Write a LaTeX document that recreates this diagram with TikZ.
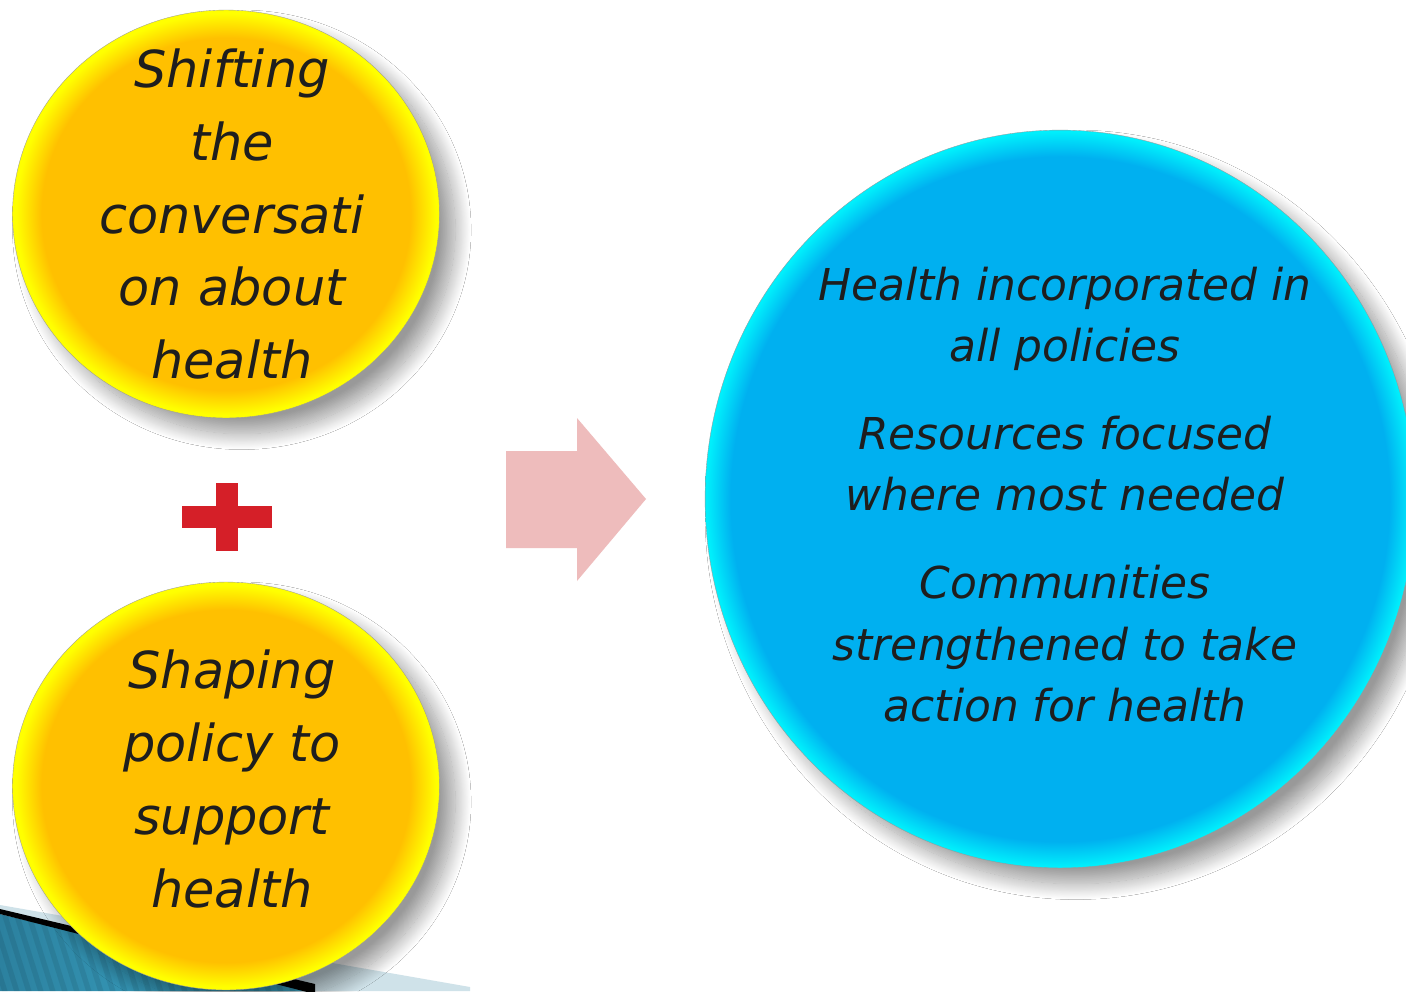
\documentclass[tikz,border=0pt]{standalone}
\usepackage{fontspec}
\setsansfont{DejaVu Sans}
\usetikzlibrary{shapes.geometric,shadows.blur}

\definecolor{discgold}{HTML}{FFC000}
\definecolor{discyellow}{HTML}{FFFF00}
\definecolor{discblue}{HTML}{00B0F0}
\definecolor{disccyan}{HTML}{00FFFF}
\definecolor{arrowpink}{HTML}{EEBCBC}
\definecolor{plusred}{HTML}{D51F28}
\definecolor{inkgray}{HTML}{1E1E1E}
\definecolor{bandblue}{HTML}{3FAFD0}
\definecolor{banddeep}{HTML}{2C819F}
\definecolor{bandlight}{HTML}{CFE2E9}

\pgfdeclareradialshading{goldglow}{\pgfpoint{0bp}{0bp}}{color(0bp)=(discgold); color(21.6bp)=(discgold); color(24.6bp)=(discyellow); color(25bp)=(discyellow); color(50bp)=(discyellow)}
\pgfdeclareradialshading{blueglow}{\pgfpoint{0bp}{0bp}}{color(0bp)=(discblue); color(23.2bp)=(discblue); color(24.9bp)=(disccyan!80!discblue); color(25bp)=(disccyan!80!discblue); color(50bp)=(disccyan)}

\begin{document}
\begin{tikzpicture}[x=0.02cm, y=-0.02cm,
                    disc/.style={ellipse, inner sep=0pt, draw=gray!80, very thin,
                      blur shadow={shadow xshift=9pt, shadow yshift=-9pt,
                                   shadow blur radius=9pt, shadow blur steps=25,
                                   shadow opacity=40}},
                    gold disc/.style={disc, shading=goldglow,
                      minimum width=8.54cm, minimum height=8.16cm},
                    blue disc/.style={disc, shading=blueglow,
                      minimum width=14.2cm, minimum height=14.76cm},
                    disc text/.style={align=center, text=inkgray, inner sep=0pt}]

  \useasboundingbox[fill=white] (0,0) rectangle (1406,991);

  % corner band
  \fill[bandlight] (0,905) -- (470,987) -- (470,991) -- (310,991) -- (0,911) -- cycle;
  \begin{scope}
    \clip (0,914) -- (315,991) -- (0,991) -- cycle;
    \shade[left color=banddeep, right color=bandblue] (0,900) rectangle (320,991);
    \foreach \x in {-60,-48,...,320}
      \draw[black, opacity=0.08, line width=3] (\x,900) -- (\x+30,995);
  \end{scope}
  \fill[black] (0,909) -- (315,984) -- (315,994) -- (0,914) -- cycle;

  % discs
  \node[gold disc] (shift) at (226,214) {};
  \node[gold disc] (shape) at (226,786) {};
  \node[blue disc] (result) at (1060,499) {};

  \node[disc text, font=\sffamily\itshape\fontsize{29}{41.4}\selectfont] at ([xshift=0.12cm]shift)
    {Shifting\\the\\conversati\\on about\\health};
  \node[disc text, font=\sffamily\itshape\fontsize{29}{41.4}\selectfont] at ([xshift=0.12cm, yshift=4pt]shape)
    {Shaping\\policy to\\support\\health};
  \node[disc text, font=\sffamily\itshape\fontsize{25}{35.1}\selectfont] at ([xshift=0.1cm, yshift=2.5pt]result)
    {Health incorporated in\\all policies\\[14.7pt]
     Resources focused\\where most needed\\[14.7pt]
     Communities\\strengthened to take\\action for health};

  % plus sign
  \fill[plusred] (182,506) rectangle (272,528);
  \fill[plusred] (216,483) rectangle (238,551);

  % arrow
  \fill[arrowpink] (506,451) -- (577,451) -- (577,418) -- (646,499)
    -- (577,581) -- (577,548) -- (506,548) -- cycle;
\end{tikzpicture}
\end{document}
